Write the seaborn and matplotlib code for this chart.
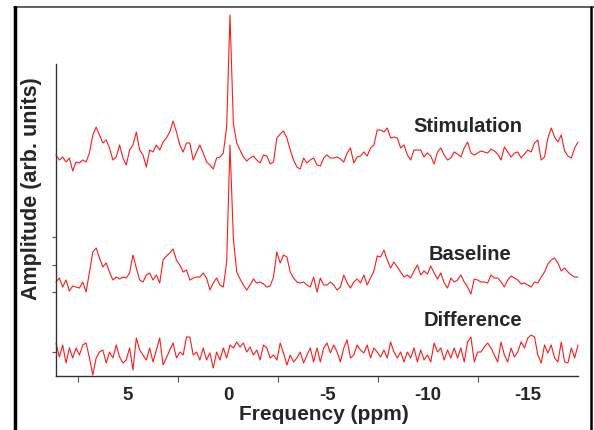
import numpy as np
import pandas as pd
import seaborn as sns
import matplotlib.pyplot as plt
from matplotlib.lines import Line2D

# Spectra (arb. units, relative to each trace's own baseline)
stimulation = [
    2, -3, 0, -5, -1, -14, -5, -6, -3, -5, 4, 22, 30, 22, 14, 17, 9, -3, 0, 12,
    -1, -8, 7, 12, 25, 7, 2, -10, 7, 5, 12, 7, 15, 19, 25, 36, 25, 12, 5, 14,
    14, -3, 5, 12, 4, -5, -8, -12, -1, 0, 4, 30, 142, 34, 14, 7, 0, -4, -1, 1,
    -3, -6, 2, 1, -7, -5, 19, 23, 26, 19, 7, -3, -10, -12, -1, -6, -3, -1, -8,
    -9, -1, 2, -1, -1, 0, -2, -5, 4, 9, -6, 0, 1, 5, 1, 9, 12, 27, 27, 25,
    29, 19, 20, 19, 9, 12, 2, -3, 7, 7, 7, 0, 4, 1, -7, 5, 9, 2, -3,
    -1, 5, 3, 0, 9, 15, 4, 2, 4, 6, 5, 4, 8, 6, 3, -3, 10, 5, 0, 4,
    5, -1, 3, 7, 5, 14, 17, -3, 0, 19, 29, 20, 15, 22, 6, 1, -1, 9, 15,
]
baseline = [
    0, 4, -5, 2, -9, -4, -5, -6, 0, -10, 10, 30, 34, 24, 15, 19, 10, 2, 5, 3,
    5, 4, 9, 27, 14, 2, 0, 7, 9, 2, 7, -1, 22, 26, 29, 33, 22, 17, 10, 12,
    2, 4, 5, 5, 9, 4, -8, -1, 4, -3, -5, 20, 137, 44, 10, 3, -3, -8, -3, 3,
    -1, 0, -2, -5, -4, 5, 30, 19, 27, 25, 10, 4, 0, -1, 0, -3, -5, 5, -10,
    4, -3, -3, 0, -3, -8, -5, 7, -1, -6, 0, 3, -1, 7, -3, 4, 11, 26, 25, 32,
    22, 14, 20, 15, 10, 5, 7, 4, 11, 17, 7, 11, 8, 16, 9, 3, 9, -1, -6,
    4, 0, 2, 7, 0, -5, -12, 3, 2, 0, 0, -1, 7, 4, 4, 0, -5, 2, 6, 4,
    2, -2, -1, -3, -5, 0, -1, 5, 10, 18, 22, 24, 19, 11, 14, 10, 7, 5, 5,
]
difference = [
    9, -5, 7, -11, 4, -6, 4, -3, 7, 9, -6, -23, -6, 0, 2, -11, 0, -6, 7, -5,
    -11, -8, 4, -18, 14, 2, -3, -8, 4, -10, 2, 14, -13, -6, 2, 9, -6, 0, -3, 15,
    15, -3, 0, -8, 4, -8, -1, -16, 0, -8, 4, -6, 7, 4, 10, 5, 9, 0, 5, -3,
    2, -8, 7, 4, -6, -3, -8, 9, -1, -13, -3, -10, -6, 0, -11, -3, 4, -10, 4,
    -10, 4, 9, -1, 7, 0, -10, 4, 12, -6, -3, 7, 2, -1, 7, -6, 4, 0, -5, 2,
    -6, 10, 0, -6, 0, -10, 0, -6, 4, -10, 2, -8, -3, -10, 9, 0, 4, -8, 2,
    -6, 4, -6, 4, -10, 10, 15, -10, 0, 0, 5, 9, 4, -3, -10, 10, -3, -10, 4, -5,
    0, 10, 4, 14, 17, 15, -3, -11, 7, -1, 7, -6, -10, 10, -10, -11, 4, -6, 7,
]

trace_names = ["Stimulation", "Baseline", "Difference"]
trace_offsets = [219, 94, 24]
label_pos = [(-12.0, 249), (-12.1, 122), (-12.25, 56)]

xticks = [5, 0, -5, -10, -15]
xtick_labels = ["5", "0", "-5", "-10", "-15"]
minor_xticks = [7.5, 2.5, -2.5, -7.5, -12.5]
yticks = [139, 111, 84, 24]

sns.set_style("white")
plt.rcParams["font.family"] = ["Liberation Sans", "DejaVu Sans"]

fig = plt.figure(figsize=(5.94, 4.30), dpi=100)
ax = fig.add_axes([56 / 594, 1 - 376 / 430, 522 / 594, 312 / 430])

for name, vals, off in zip(trace_names, [stimulation, baseline, difference], trace_offsets):
    ppm = np.linspace(8.6, -17.5, len(vals))
    df = pd.DataFrame({"ppm": ppm, "amp": np.array(vals) + off})
    sns.lineplot(data=df, x="ppm", y="amp", color="#ff1a1a", lw=0.8,
                 ax=ax, clip_on=False)

for name, (x, y) in zip(trace_names, label_pos):
    ax.text(x, y, name, ha="center", va="center", fontsize=14.5,
            fontweight="bold")

ax.set_xlim(8.6, -17.5)
ax.set_ylim(0, 312)
ax.set_xticks(xticks)
ax.set_xticklabels(xtick_labels, fontsize=13.5, fontweight="bold")
ax.set_xticks(minor_xticks, minor=True)
ax.set_yticks(yticks)
ax.set_yticklabels([])
ax.tick_params(axis="x", which="major", length=0, pad=8)
ax.tick_params(axis="x", which="minor", length=4, width=0.8,
               color="#555555", direction="out", bottom=True)
ax.tick_params(axis="y", length=3, width=0.8, color="#555555",
               direction="out", left=True)

ax.set_xlabel("Frequency (ppm)", fontsize=15, fontweight="bold")
ax.set_ylabel("Amplitude (arb. units)", fontsize=15.5, fontweight="bold")
ax.xaxis.set_label_coords(0.513, -0.093)
ax.yaxis.set_label_coords(-0.026, 0.60)

sns.despine(ax=ax)
for side in ["left", "bottom"]:
    ax.spines[side].set_color("#333333")
    ax.spines[side].set_linewidth(1.0)

# outer frame lines of the original slide
fig.add_artist(Line2D([14 / 594, 1], [1 - 7 / 430, 1 - 7 / 430],
                      color="#444444", lw=1.2, transform=fig.transFigure))
fig.add_artist(Line2D([15 / 594, 15 / 594], [0, 1 - 7 / 430],
                      color="black", lw=2.5, transform=fig.transFigure))
fig.add_artist(Line2D([591 / 594, 591 / 594], [0, 1 - 7 / 430],
                      color="black", lw=1.8, transform=fig.transFigure))

fig.savefig("out.png", dpi=100)
plt.close(fig)
